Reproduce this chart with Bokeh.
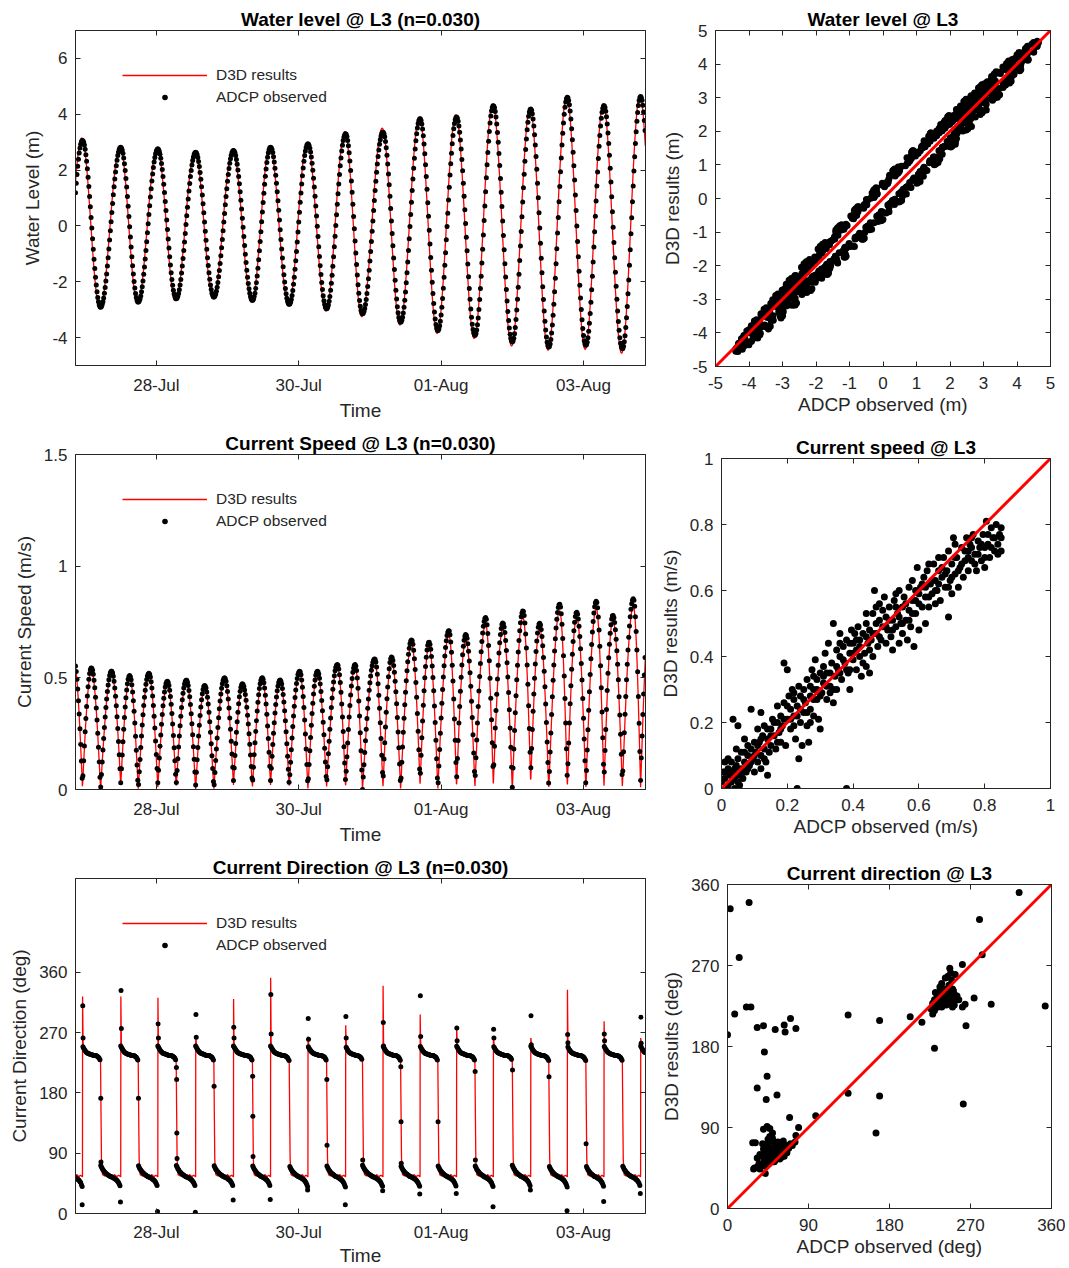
import datetime as dt
import numpy as np
from bokeh.plotting import figure
from bokeh.layouts import column, row
from bokeh.models import (Range1d, FixedTicker, LinearAxis, DatetimeTickFormatter,
                          Legend, LegendItem)
from bokeh.embed import file_html
from bokeh.resources import INLINE

# ---------------------------------------------------------------- data
# times are hours after 26-Jul 00:00
T_START, T_END = 20.75, 212.9
DATE_TICKS_H = [48, 96, 144, 192]          # 28-Jul, 30-Jul, 01-Aug, 03-Aug

# water level high / low waters (m)
HW_T = [23.1, 36.0, 48.5, 61.25, 74.0, 86.5, 99.1, 111.8, 124.4, 136.9, 149.2,
        161.6, 174.2, 186.55, 198.9, 211.25]
HW_OBS = [3.06, 2.82, 2.76, 2.64, 2.70, 2.82, 2.94, 3.30, 3.36, 3.84, 3.90, 4.31,
          4.19, 4.61, 4.31, 4.64]
HW_MOD = [3.15, 2.86, 2.80, 2.68, 2.74, 2.86, 3.00, 3.38, 3.50, 3.90, 3.98, 4.36,
          4.24, 4.64, 4.38, 4.68]
LW_T = [16.9, 29.2, 41.9, 54.7, 67.4, 80.4, 92.8, 105.4, 117.5, 130.35, 142.9,
        155.4, 168.0, 180.3, 192.8, 205.1, 217.5]
LW_OBS = [-2.90, -2.91, -2.73, -2.61, -2.55, -2.67, -2.81, -2.97, -3.15, -3.45,
          -3.75, -3.92, -4.16, -4.34, -4.28, -4.40, -4.40]
LW_MOD = [-2.95, -2.97, -2.78, -2.68, -2.60, -2.72, -2.87, -3.05, -3.25, -3.55,
          -3.85, -4.03, -4.30, -4.45, -4.42, -4.56, -4.50]
MODEL_LEAD_H = 0.25

# current speed: peak flows between slack waters (m/s)
SPD_PEAK_T = [20.3, 26.1, 32.9, 39.0, 45.5, 51.7, 58.1, 64.3, 71.0, 77.0, 83.7, 89.7,
              96.3, 102.3, 109.0, 115.0, 121.6, 127.3, 134.05, 139.9, 146.6, 152.3,
              159.0, 164.8, 171.6, 177.2, 183.95, 189.7, 196.3, 201.9, 208.8, 214.4]
SPD_PEAK_OBS = [0.57, 0.545, 0.53, 0.51, 0.52, 0.485, 0.49, 0.466, 0.50, 0.473, 0.50,
                0.49, 0.53, 0.53, 0.56, 0.56, 0.585, 0.593, 0.67, 0.66, 0.712, 0.694,
                0.77, 0.746, 0.80, 0.745, 0.83, 0.794, 0.843, 0.78, 0.854, 0.85]
SPD_PEAK_MOD = [0.56, 0.53, 0.52, 0.50, 0.51, 0.47, 0.48, 0.455, 0.49, 0.46, 0.49,
                0.48, 0.52, 0.52, 0.55, 0.55, 0.57, 0.58, 0.65, 0.64, 0.69, 0.67,
                0.74, 0.72, 0.77, 0.72, 0.80, 0.77, 0.81, 0.76, 0.82, 0.82]
SPD_SLACK_OBS = [0.02, 0.0, 0.03, 0.0, 0.03, 0.02, 0.02, 0.0, 0.04, 0.02, 0.04, 0.02,
                 0.01, 0.02, 0.03, 0.0, 0.03, 0.01, 0.04, 0.0, 0.04, 0.03, 0.06, 0.01,
                 0.08, 0.01, 0.04, 0.01, 0.04, 0.03, 0.04]
SPD_SLACK_MOD = [0.01, 0.0, 0.02, 0.0, 0.01, 0.01, 0.0, 0.0, 0.02, 0.01, 0.02, 0.01,
                 0.0, 0.01, 0.01, 0.0, 0.01, 0.0, 0.02, 0.0, 0.01, 0.01, 0.02, 0.0,
                 0.03, 0.0, 0.01, 0.0, 0.01, 0.01, 0.01]

# current direction (deg): typical ebb / flood profiles over a phase (fraction 0..1)
PHASE_FRAC = [0.0, 0.1, 0.2, 0.3, 0.4, 0.5, 0.6, 0.7, 0.8, 0.9, 1.0]
OBS_EBB_PROF = [250, 245, 241, 239, 238, 237, 236, 236, 235, 233, 228]
OBS_FLOOD_PROF = [72, 66, 62, 59, 57, 55, 54, 52, 50, 46, 39]
MOD_EBB_PROF = [246, 241, 239, 238, 237, 237, 236, 236, 235, 234, 232]
MOD_FLOOD_PROF = [64, 58, 56, 58, 55, 57, 56, 58, 55, 57, 55]
# per high water: modelled spike peak, observed dots around the flip
MOD_SPIKE = [324, 324, 322, 266, 320, 352, 264, 281, 340, 297, 280, 265, 262, 334, 287, 262]
OBS_PRE_FLIP = [13, 17, 3, 2, 20, 21, 35, 13, 34, 29, 30, 10, 35, 4, 18, 30]
OBS_SPIKE1 = [310, 333, 283, 297, 278, 327, 291, 294, 285, 325, 277, 275, 295, 267, 268, 293]
OBS_SPIKE2 = [262, 276, 262, 263, 262, 268, 260, 262, 250, 264, 258, 262, 252, 255, 258, 254]
# observed dots during the ebb->flood turn (index of low water, value)
LW_TURN_IDX = [1, 1, 2, 3, 3, 3, 3, 4, 5, 5, 5, 7, 7, 8, 9, 9, 9, 10, 11, 11, 12, 13, 14]
LW_TURN_VAL = [172, 77, 172, 218, 200, 120, 82, 190, 205, 145, 85, 200, 102, 80, 219,
               137, 75, 137, 212, 80, 214, 204, 104]

# scatter: current speed (observed, modelled) m/s
SPEED_SCATTER = [
    (0.00, 0.02), (0.005, 0.05), (0.01, 0.08), (0.01, 0.03), (0.015, 0.00), (0.02, 0.06),
    (0.02, 0.01), (0.025, 0.04), (0.03, 0.08), (0.03, 0.02), (0.035, 0.05), (0.035, 0.21),
    (0.04, 0.00), (0.04, 0.03), (0.045, 0.07), (0.045, 0.12), (0.05, 0.04), (0.05, 0.19),
    (0.05, 0.09), (0.055, 0.01), (0.06, 0.06), (0.06, 0.11), (0.065, 0.03), (0.07, 0.08),
    (0.07, 0.15), (0.075, 0.05), (0.08, 0.10), (0.08, 0.13), (0.085, 0.07), (0.09, 0.24),
    (0.09, 0.12), (0.095, 0.09), (0.10, 0.05), (0.10, 0.14), (0.105, 0.11), (0.11, 0.18),
    (0.11, 0.08), (0.115, 0.14), (0.12, 0.23), (0.12, 0.10), (0.125, 0.16), (0.13, 0.12),
    (0.13, 0.19), (0.135, 0.08), (0.14, 0.15), (0.14, 0.04), (0.145, 0.11), (0.15, 0.18),
    (0.15, 0.13), (0.155, 0.21), (0.16, 0.16), (0.165, 0.12), (0.17, 0.20), (0.17, 0.25),
    (0.175, 0.17), (0.18, 0.14), (0.18, 0.22), (0.185, 0.19), (0.19, 0.38), (0.19, 0.26),
    (0.195, 0.13), (0.20, 0.21), (0.20, 0.36), (0.205, 0.28), (0.21, 0.18), (0.21, 0.24),
    (0.215, 0.30), (0.22, 0.22), (0.22, 0.27), (0.225, 0.15), (0.23, 0.00), (0.23, 0.25),
    (0.235, 0.09), (0.235, 0.31), (0.24, 0.20), (0.24, 0.28), (0.245, 0.13), (0.25, 0.23),
    (0.25, 0.30), (0.255, 0.26), (0.26, 0.19), (0.26, 0.33), (0.265, 0.14), (0.27, 0.28),
    (0.27, 0.24), (0.275, 0.36), (0.28, 0.30), (0.28, 0.22), (0.285, 0.39), (0.29, 0.27),
    (0.29, 0.33), (0.295, 0.21), (0.30, 0.18), (0.30, 0.35), (0.305, 0.29), (0.31, 0.37),
    (0.31, 0.32), (0.315, 0.41), (0.32, 0.27), (0.32, 0.35), (0.325, 0.44), (0.33, 0.31),
    (0.335, 0.38), (0.34, 0.50), (0.34, 0.26), (0.345, 0.34), (0.35, 0.42), (0.35, 0.30),
    (0.355, 0.36), (0.36, 0.47), (0.36, 0.40), (0.365, 0.33), (0.37, 0.43), (0.375, 0.38),
    (0.38, 0.00), (0.38, 0.45), (0.385, 0.35), (0.39, 0.41), (0.39, 0.30), (0.395, 0.48),
    (0.40, 0.39), (0.40, 0.44), (0.405, 0.47), (0.41, 0.36), (0.41, 0.42), (0.415, 0.49),
    (0.42, 0.40), (0.42, 0.45), (0.425, 0.34), (0.43, 0.47), (0.435, 0.41), (0.44, 0.50),
    (0.44, 0.37), (0.445, 0.44), (0.45, 0.48), (0.45, 0.35), (0.455, 0.45), (0.46, 0.53),
    (0.46, 0.40), (0.465, 0.60), (0.47, 0.47), (0.475, 0.43), (0.48, 0.51), (0.48, 0.56),
    (0.485, 0.45), (0.49, 0.49), (0.495, 0.58), (0.50, 0.44), (0.50, 0.52), (0.505, 0.48),
    (0.51, 0.55), (0.515, 0.46), (0.52, 0.51), (0.52, 0.42), (0.525, 0.57), (0.53, 0.49),
    (0.535, 0.53), (0.54, 0.44), (0.54, 0.60), (0.545, 0.50), (0.55, 0.55), (0.55, 0.47),
    (0.555, 0.58), (0.56, 0.51), (0.565, 0.45), (0.57, 0.61), (0.57, 0.54), (0.575, 0.49),
    (0.58, 0.57), (0.585, 0.43), (0.59, 0.60), (0.59, 0.53), (0.595, 0.67), (0.60, 0.56),
    (0.60, 0.48), (0.605, 0.61), (0.61, 0.55), (0.615, 0.64), (0.62, 0.50), (0.62, 0.58),
    (0.625, 0.66), (0.63, 0.55), (0.635, 0.62), (0.64, 0.59), (0.645, 0.68), (0.65, 0.56),
    (0.65, 0.63), (0.655, 0.60), (0.66, 0.66), (0.665, 0.57), (0.67, 0.64), (0.675, 0.70),
    (0.68, 0.61), (0.685, 0.66), (0.69, 0.52), (0.69, 0.72), (0.695, 0.63), (0.70, 0.68),
    (0.70, 0.59), (0.705, 0.76), (0.71, 0.65), (0.715, 0.70), (0.72, 0.61), (0.725, 0.67),
    (0.73, 0.73), (0.735, 0.64), (0.74, 0.69), (0.745, 0.76), (0.75, 0.66), (0.75, 0.72),
    (0.755, 0.74), (0.76, 0.69), (0.765, 0.77), (0.77, 0.71), (0.775, 0.66), (0.78, 0.75),
    (0.785, 0.73), (0.79, 0.69), (0.795, 0.77), (0.80, 0.73), (0.80, 0.67), (0.805, 0.81),
    (0.81, 0.74), (0.815, 0.70), (0.82, 0.79), (0.825, 0.76), (0.83, 0.72), (0.835, 0.80),
    (0.84, 0.74), (0.845, 0.77), (0.85, 0.79), (0.85, 0.72),
    (0.01, 0.05), (0.02, 0.09), (0.03, 0.05), (0.04, 0.06), (0.05, 0.02), (0.06, 0.04),
    (0.07, 0.11), (0.08, 0.06), (0.09, 0.08), (0.10, 0.10), (0.11, 0.13), (0.12, 0.15),
    (0.13, 0.09), (0.14, 0.18), (0.15, 0.16), (0.16, 0.20), (0.17, 0.14), (0.18, 0.18),
    (0.19, 0.21), (0.20, 0.25), (0.21, 0.21), (0.22, 0.29), (0.23, 0.22), (0.24, 0.24),
    (0.25, 0.27), (0.26, 0.23), (0.27, 0.31), (0.28, 0.27), (0.29, 0.30), (0.30, 0.28),
    (0.31, 0.34), (0.32, 0.31), (0.33, 0.35), (0.34, 0.30), (0.35, 0.37), (0.36, 0.35),
    (0.37, 0.39), (0.38, 0.36), (0.39, 0.44), (0.40, 0.41), (0.41, 0.45), (0.42, 0.43),
    (0.43, 0.38), (0.44, 0.46), (0.45, 0.42), (0.46, 0.47), (0.47, 0.50), (0.48, 0.46),
    (0.49, 0.54), (0.50, 0.49), (0.51, 0.51), (0.52, 0.48), (0.53, 0.55), (0.54, 0.52),
    (0.55, 0.50), (0.56, 0.56), (0.57, 0.51), (0.58, 0.53), (0.59, 0.57), (0.60, 0.59),
    (0.61, 0.62), (0.62, 0.61), (0.63, 0.58), (0.64, 0.63), (0.65, 0.60), (0.66, 0.62),
    (0.67, 0.67), (0.68, 0.65), (0.69, 0.61), (0.70, 0.64), (0.71, 0.70), (0.72, 0.66),
    (0.73, 0.68), (0.74, 0.72), (0.75, 0.70), (0.76, 0.73), (0.77, 0.68), (0.78, 0.71),
    (0.79, 0.74), (0.80, 0.70), (0.81, 0.77), (0.82, 0.73), (0.83, 0.76), (0.84, 0.71),
    (0.85, 0.76), (0.36, 0.44), (0.47, 0.55), (0.58, 0.63), (0.63, 0.68), (0.28, 0.34),
    (0.22, 0.19), (0.12, 0.06), (0.44, 0.53), (0.53, 0.59), (0.66, 0.70), (0.71, 0.74),
    (0.76, 0.76), (0.39, 0.36), (0.33, 0.29), (0.27, 0.20)]

# scatter: current direction (observed, modelled) deg
DIR_SCATTER = [
    (3, 333), (24, 340), (13, 279), (0, 193), (8, 216), (21, 224), (26, 224), (33, 201),
    (40, 203), (53, 199), (63, 204), (64, 196), (70, 211), (76, 200), (41, 174), (44, 147),
    (33, 134), (55, 126), (43, 121), (69, 101), (79, 90), (98, 103), (76, 81), (134, 215),
    (134, 128), (169, 209), (169, 125), (165, 84), (203, 213), (216, 207), (228, 216),
    (230, 178), (261, 271), (280, 321), (283, 282), (324, 351), (274, 234), (293, 227),
    (353, 225), (262, 116), (265, 203), (261, 224), (264, 227), (257, 232), (247, 267),
    (250, 224), (31, 73), (29, 44), (42, 39),
    (30, 45), (33, 46), (36, 44), (38, 48), (40, 50), (42, 47), (44, 52), (45, 55), (46, 50),
    (47, 58), (48, 53), (49, 56), (50, 60), (50, 52), (51, 55), (52, 58), (52, 62), (53, 54),
    (54, 57), (55, 60), (55, 64), (56, 56), (57, 62), (58, 59), (58, 66), (59, 61), (60, 57),
    (60, 64), (61, 68), (62, 60), (63, 63), (64, 66), (65, 70), (66, 62), (68, 67), (70, 72),
    (72, 70), (75, 74), (38, 58), (40, 66), (42, 62), (44, 72), (45, 77), (47, 80), (48, 75),
    (50, 78), (52, 73), (46, 68), (43, 58), (41, 55), (39, 72), (36, 60), (54, 70), (56, 74),
    (49, 66), (33, 56), (35, 50), (28, 73), (44, 91), (47, 89), (40, 88), (50, 84),
    (45, 60), (48, 62), (51, 64), (53, 66), (55, 68), (57, 71), (59, 73), (62, 75), (46, 56),
    (49, 59), (52, 52), (54, 55), (56, 58), (58, 55), (61, 62), (63, 58), (65, 64), (67, 68),
    (226, 222), (228, 228), (230, 232), (232, 226), (233, 236), (234, 230), (235, 240),
    (236, 228), (237, 234), (238, 238), (239, 230), (240, 244), (240, 226), (241, 236),
    (242, 232), (243, 240), (244, 228), (245, 236), (246, 248), (246, 230), (247, 240),
    (248, 234), (249, 254), (250, 244), (251, 230), (252, 238), (253, 260), (254, 232),
    (238, 250), (242, 256), (236, 246), (234, 224), (245, 258), (248, 262), (231, 240),
    (252, 226), (255, 236), (230, 220), (233, 228), (237, 230), (239, 236), (241, 228),
    (243, 234), (244, 242), (246, 236), (249, 238), (251, 242), (238, 224), (243, 226),
    (247, 228)]

# ---------------------------------------------------------------- series build
BASE_MS = (dt.datetime(2017, 7, 26) - dt.datetime(1970, 1, 1)).total_seconds() * 1000.0


def to_ms(h):
    return BASE_MS + np.asarray(h, dtype=float) * 3600e3


t_obs = np.arange(T_START, T_END, 0.25)          # 15-min observations
t_mod = np.arange(T_START, T_END + 0.01, 1 / 12)  # 5-min model output

ext_t = np.array(sorted(HW_T + LW_T))
ext_is_hw = np.isin(ext_t, HW_T)


def tide(t, nodes_t, nodes_v):
    nt, nv = np.asarray(nodes_t), np.asarray(nodes_v)
    i = np.clip(np.searchsorted(nt, t, side="right") - 1, 0, len(nt) - 2)
    s = (t - nt[i]) / (nt[i + 1] - nt[i])
    return nv[i] + (nv[i + 1] - nv[i]) * (1 - np.cos(np.pi * s)) / 2


def merge(hw_v, lw_v):
    d = {**dict(zip(HW_T, hw_v)), **dict(zip(LW_T, lw_v))}
    return [d[k] for k in ext_t]


wl_obs_nodes = merge(HW_OBS, LW_OBS)
wl_mod_nodes = merge(HW_MOD, LW_MOD)
wl_obs = tide(t_obs, ext_t, wl_obs_nodes)
wl_mod_line = tide(t_mod, ext_t - MODEL_LEAD_H, wl_mod_nodes)
wl_mod_at_obs = tide(t_obs, ext_t - MODEL_LEAD_H, wl_mod_nodes)

slack_t = [x for x in ext_t if T_START < x < T_END]
sp_t = np.array(sorted(slack_t + SPD_PEAK_T))
sp_is_peak = np.isin(sp_t, SPD_PEAK_T)


def speed(t, peak_v, slack_v):
    d = {**dict(zip(SPD_PEAK_T, peak_v)), **dict(zip(slack_t, slack_v))}
    nv = np.array([d[k] for k in sp_t])
    i = np.clip(np.searchsorted(sp_t, t, side="right") - 1, 0, len(sp_t) - 2)
    s = (t - sp_t[i]) / (sp_t[i + 1] - sp_t[i])
    rising = ~sp_is_peak[i]
    up = nv[i] + (nv[i + 1] - nv[i]) * np.sin(np.pi / 2 * s)
    down = nv[i + 1] + (nv[i] - nv[i + 1]) * np.cos(np.pi / 2 * s)
    return np.where(rising, up, down)


spd_obs = speed(t_obs, SPD_PEAK_OBS, SPD_SLACK_OBS)
spd_mod = speed(t_mod, SPD_PEAK_MOD, SPD_SLACK_MOD)

# direction, observed
i = np.clip(np.searchsorted(ext_t, t_obs, side="right") - 1, 0, len(ext_t) - 2)
s = (t_obs - ext_t[i]) / (ext_t[i + 1] - ext_t[i])
dir_obs = np.where(ext_is_hw[i], np.interp(s, PHASE_FRAC, OBS_EBB_PROF),
                   np.interp(s, PHASE_FRAC, OBS_FLOOD_PROF))
dir_t = list(t_obs)
dir_v = list(dir_obs)
for k, th in enumerate(HW_T):
    dir_t += [th - 0.1, th + 0.1, th + 0.2]
    dir_v += [OBS_PRE_FLIP[k], OBS_SPIKE1[k], OBS_SPIKE2[k]]
cnt = {}
for li, v in zip(LW_TURN_IDX, LW_TURN_VAL):
    j = cnt.get(li, 0)
    cnt[li] = j + 1
    dir_t.append(LW_T[li] + 0.07 * (j + 1))
    dir_v.append(v)

# direction, model (polyline through phase nodes)
md_t, md_v = [], []
hw_k = 0
for k in range(len(ext_t) - 1):
    t0, t1 = ext_t[k], ext_t[k + 1]
    D = t1 - t0
    if ext_is_hw[k]:
        md_t += [t0, t0 + 0.04, t0 + 0.2, t0 + 0.4]
        md_v += [MOD_FLOOD_PROF[-1], MOD_SPIKE[hw_k], 256, 247]
        hw_k += 1
        for f, v in zip(PHASE_FRAC[1:], MOD_EBB_PROF[1:]):
            if f * D > 0.5:
                md_t.append(t0 + f * D - (0.05 if f == 1.0 else 0))
                md_v.append(v)
    else:
        md_t += [t0, t0 + 0.15, t0 + 0.3, t0 + 0.5]
        md_v += [222, 150, 82, 64]
        for f, v in zip(PHASE_FRAC[1:], MOD_FLOOD_PROF[1:]):
            if f * D > 0.6:
                md_t.append(t0 + f * D - (0.02 if f == 1.0 else 0))
                md_v.append(v)

# ---------------------------------------------------------------- styling
FONT = "Liberation Sans"
TXT = "#262626"
AX = "#262626"
RED = "#FF0000"


def fmt(v):
    return "%g" % v


def date_formatter():
    f = "%d-%b"
    return DatetimeTickFormatter(days=f, months=f, hours=f, hourmin=f, minutes=f,
                                 minsec=f, seconds=f, milliseconds=f, microseconds=f,
                                 years=f, context=None)


def make_fig(fw, fh, bl, br, bt, bb, xr, yr, xticks, yticks, title, xlabel, ylabel,
             datetime_x=False, xl_standoff=10, xa_standoff=2):
    p = figure(frame_width=fw, frame_height=fh, min_border_left=bl, min_border_right=br,
               min_border_top=bt, min_border_bottom=bb, x_range=xr, y_range=yr,
               x_axis_type="datetime" if datetime_x else "linear",
               output_backend="svg", toolbar_location=None, tools="")
    p.grid.visible = False
    p.outline_line_color = AX
    p.background_fill_color = "white"
    p.border_fill_color = "white"
    p.title.text = title
    p.title.align = "center"
    p.title.text_font = FONT
    p.title.text_font_size = "19px"
    p.title.text_font_style = "bold"
    p.title.text_color = "#000000"
    p.title.standoff = 2
    xa, ya = p.below[0], p.left[0]
    for ax, ticks in ((xa, xticks), (ya, yticks)):
        ax.ticker = FixedTicker(ticks=ticks)
        ax.major_tick_in = 5
        ax.major_tick_out = 0
        ax.minor_tick_line_color = None
        ax.axis_line_color = AX
        ax.major_tick_line_color = AX
        ax.major_label_text_font = FONT
        ax.major_label_text_font_size = "17px"
        ax.major_label_text_color = TXT
        ax.axis_label_text_font = FONT
        ax.axis_label_text_font_size = "19px"
        ax.axis_label_text_font_style = "normal"
        ax.axis_label_text_color = TXT
    xa.major_label_standoff = xl_standoff
    ya.major_label_standoff = 8
    xa.axis_label_standoff = xa_standoff
    ya.axis_label_standoff = 6
    xa.axis_label = xlabel
    ya.axis_label = ylabel
    if datetime_x:
        xa.formatter = date_formatter()
    else:
        xa.major_label_overrides = {t: fmt(t) for t in xticks}
    ya.major_label_overrides = {t: fmt(t) for t in yticks}
    for loc, ticks in (("above", xticks), ("right", yticks)):
        a = LinearAxis(ticker=FixedTicker(ticks=ticks),
                       major_label_overrides={t: "" for t in ticks},
                       major_label_standoff=0, major_tick_in=5, major_tick_out=0,
                       minor_tick_line_color=None, axis_line_color=AX,
                       major_tick_line_color=AX)
        p.add_layout(a, loc)
    return p


def add_legend(p, line_r, dot_r, fh):
    lg = Legend(items=[LegendItem(label="D3D results", renderers=[line_r]),
                       LegendItem(label="ADCP observed", renderers=[dot_r])],
                location=(47, fh - 34 - 44), glyph_width=85, glyph_height=14,
                label_height=22, label_standoff=9, spacing=0, padding=0, margin=0,
                border_line_color=None, background_fill_alpha=0,
                label_text_font=FONT, label_text_font_size="15.5px",
                label_text_color=TXT)
    p.add_layout(lg)


def xr_ts():
    return Range1d(to_ms(T_START), to_ms(T_END))


date_ticks = list(to_ms(DATE_TICKS_H))

# --- row 1 (page y 0..425)
a1 = make_fig(570, 335, 75, 10, 30, 60, xr_ts(), Range1d(-5, 7), date_ticks,
              [-4, -2, 0, 2, 4, 6], "Water level @ L3 (n=0.030)", "Time",
              "Water Level (m)", datetime_x=True)
l1 = a1.line(to_ms(t_mod), wl_mod_line, line_color=RED, line_width=1.3)
d1 = a1.scatter(to_ms(t_obs), wl_obs, size=5, fill_color="black", line_color=None)
add_legend(a1, l1, d1, 335)

ticks5 = [-5, -4, -3, -2, -1, 0, 1, 2, 3, 4, 5]
b1 = make_fig(335, 336, 60, 15, 30, 59, Range1d(-5, 5), Range1d(-5, 5), ticks5, ticks5,
              "Water level @ L3", "ADCP observed (m)", "D3D results (m)")
b1.scatter(wl_obs, wl_mod_at_obs, size=7, fill_color="black", line_color=None)
b1.line([-5, 5], [-5, 5], line_color=RED, line_width=3)

# --- row 2 (page y 425..848)
a2 = make_fig(570, 335, 75, 10, 29, 59, xr_ts(), Range1d(0, 1.5), date_ticks,
              [0, 0.5, 1, 1.5], "Current Speed @ L3 (n=0.030)", "Time",
              "Current Speed (m/s)", datetime_x=True)
l2 = a2.line(to_ms(t_mod), spd_mod, line_color=RED, line_width=1.3)
d2 = a2.scatter(to_ms(t_obs), spd_obs, size=5, fill_color="black", line_color=None)
add_legend(a2, l2, d2, 335)

ticks_sp = [0, 0.2, 0.4, 0.6, 0.8, 1]
b2 = make_fig(329, 330, 66, 15, 33, 60, Range1d(0, 1), Range1d(0, 1), ticks_sp, ticks_sp,
              "Current speed @ L3", "ADCP observed (m/s)", "D3D results (m/s)")
b2.scatter([a for a, b in SPEED_SCATTER], [b for a, b in SPEED_SCATTER], size=7,
           fill_color="black", line_color=None)
b2.line([0, 1], [0, 1], line_color=RED, line_width=3)

# --- row 3 (page y 848..1268)
ticks_dir = [0, 90, 180, 270, 360]
a3 = make_fig(570, 335, 75, 10, 30, 55, xr_ts(), Range1d(0, 500), date_ticks, ticks_dir,
              "Current Direction @ L3 (n=0.030)", "Time", "Current Direction (deg)",
              datetime_x=True, xl_standoff=9, xa_standoff=0)
l3 = a3.line(to_ms(md_t), md_v, line_color=RED, line_width=1.3)
d3 = a3.scatter(to_ms(dir_t), dir_v, size=5, fill_color="black", line_color=None)
add_legend(a3, l3, d3, 335)

b3 = make_fig(324, 324, 72, 14, 36, 60, Range1d(0, 360), Range1d(0, 360), ticks_dir,
              ticks_dir, "Current direction @ L3", "ADCP observed (deg)",
              "D3D results (deg)")
b3.scatter([a for a, b in DIR_SCATTER], [b for a, b in DIR_SCATTER], size=7,
           fill_color="black", line_color=None)
b3.line([0, 360], [0, 360], line_color=RED, line_width=3)

layout = column(row(column(a1), column(b1)),
                row(column(a2), column(b2)),
                row(column(a3), column(b3)))
open("out.html", "w").write(file_html(layout, INLINE))
